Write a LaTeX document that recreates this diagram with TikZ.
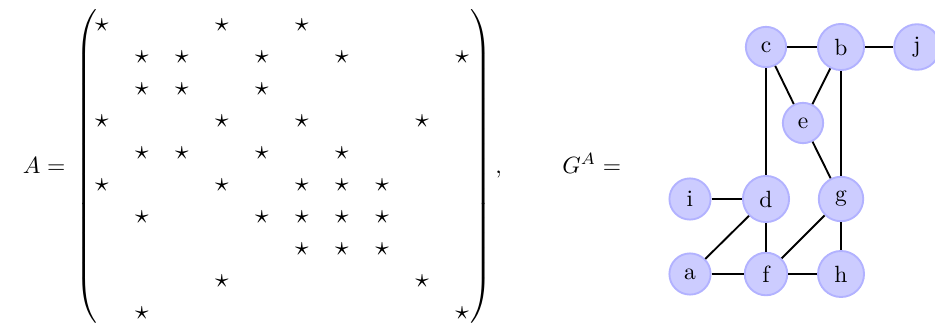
\documentclass[tikz,border=0pt]{standalone}
\usepackage{graphicx}
\begin{document}
\begin{tikzpicture}[x=0.4255pt,y=-0.4255pt,
  vert/.style={circle,fill=blue!20,draw=blue!30,line width=0.8pt,inner sep=3.8pt},
  edge/.style={thick},
  starnode/.style={inner sep=0pt,scale=1.15},
  txt/.style={inner sep=0pt,anchor=base west}]
\useasboundingbox (0,0) rectangle (935,327);
% left-hand side
\node[txt] (lhs) at (22.5,173) {$A =$};
\node[anchor=west,inner sep=0pt] (lpar) at (75,168.5) {\resizebox*{!}{135pt}{$\left(\vrule height 62pt depth 62pt width 0pt\right.$}};
\node[anchor=east,inner sep=0pt] (rpar) at (493,168.5) {\resizebox*{!}{135pt}{$\left.\vrule height 62pt depth 62pt width 0pt\right)$}};
\foreach \r/\cols in {1/{1,4,6},2/{2,3,5,7,10},3/{2,3,5},4/{1,4,6,9},5/{2,3,5,7},6/{1,4,6,7,8},7/{2,5,6,7,8},8/{6,7,8},9/{4,9},10/{2,10}}{
  \foreach \c in \cols {
    \node[starnode] (s\r-\c) at ({102+40*(\c-1)},{25+32*(\r-1)}) {$\star$};
  }
}
\node[txt] (comma) at (495,173) {$,$};
\node[txt] (rhs) at (562,173) {$G^A =$};
% graph
\node[vert] (c) at (766,47) {c};
\node[vert] (b) at (841,47) {b};
\node[vert] (j) at (917,47) {j};
\node[vert] (e) at (803,123) {e};
\node[vert] (i) at (690,199) {i};
\node[vert] (d) at (766,199) {d};
\node[vert] (g) at (841,199) {g};
\node[vert] (a) at (690,274) {a};
\node[vert] (f) at (766,274) {f};
\node[vert] (h) at (841,274) {h};
\foreach \u/\v in {c/b,b/j,c/e,b/e,c/d,b/g,e/g,i/d,d/a,d/f,g/f,g/h,a/f,f/h}
  \draw[edge] (\u) -- (\v);
\end{tikzpicture}
\end{document}
